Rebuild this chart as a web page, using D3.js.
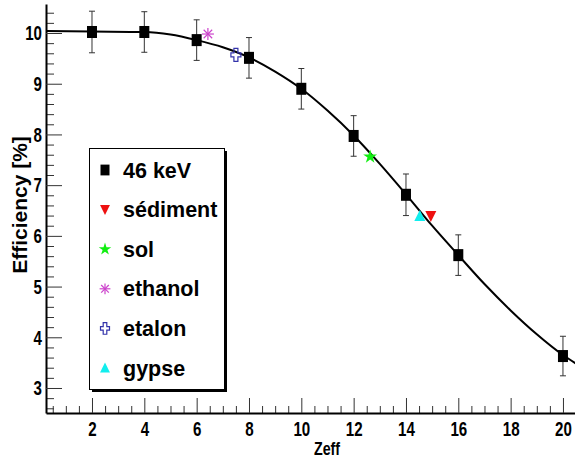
<!DOCTYPE html>
<html>
<head>
<meta charset="utf-8">
<script src="https://cdn.jsdelivr.net/npm/d3@7"></script>
<style>
  html, body { margin: 0; padding: 0; background: #fff; }
  svg { display: block; }
</style>
</head>
<body>
<svg id="chart" width="575" height="461"></svg>
<script>
// ---- data ----
const zeff = [2, 4, 6, 8, 10, 12, 14, 16, 20];
const eff = [10.02, 10.02, 9.86, 9.51, 8.90, 7.97, 6.81, 5.62, 3.63];
const effErr = [0.41, 0.40, 0.40, 0.40, 0.40, 0.40, 0.41, 0.40, 0.39];

const sampleNames = ["sédiment", "sol", "ethanol", "etalon", "gypse"];
const sampleZeff = [14.95, 12.63, 6.43, 7.50, 14.53];
const sampleEff = [6.39, 7.56, 9.98, 9.57, 6.39];
const sampleColors = ["#ee1111", "#11ee11", "#cc44cc", "#3333aa", "#11eeee"];
const sampleShapes = ["triDown", "star", "asterisk", "openCross", "triUp"];

const fitZeff = [0.25, 2, 4, 5, 6, 7, 8, 9, 10, 11, 12, 13, 14, 15, 16, 17, 18, 19, 20, 20.5];
const fitEff = [10.04, 10.03, 10.02, 9.97, 9.86, 9.72, 9.52, 9.24, 8.90, 8.47, 7.98, 7.42, 6.82, 6.20, 5.62, 5.05, 4.53, 4.06, 3.65, 3.48];

const xTicks = [2, 4, 6, 8, 10, 12, 14, 16, 18, 20];
const yTicks = [3, 4, 5, 6, 7, 8, 9, 10];
const legendLabels = ["46 keV", ...sampleNames];

// ---- layout ----
const svg = d3.select("#chart");
const x = d3.scaleLinear().domain([0.242, 20.46]).range([46, 575]);
const y = d3.scaleLinear().domain([2.507, 10.572]).range([413, 4]);

const mainFont = "'Liberation Sans', Arial, sans-serif";
const squeeze = 0.72;

// minor ticks
const xMinor = d3.range(0.5, 20.5, 0.5).filter(v => !xTicks.includes(v));
const yMinor = d3.range(2.6, 10.5, 0.2).map(v => +v.toFixed(1)).filter(v => !yTicks.includes(v));

svg.append("g").attr("transform", "translate(0,413)")
  .call(d3.axisBottom(x).tickValues(xMinor).tickSizeInner(-7).tickSizeOuter(0).tickFormat(""))
  .call(g => g.select(".domain").remove())
  .call(g => g.selectAll("line").attr("stroke", "#333"));
svg.append("g").attr("transform", "translate(46,0)")
  .call(d3.axisLeft(y).tickValues(yMinor).tickSizeInner(-8).tickSizeOuter(0).tickFormat(""))
  .call(g => g.select(".domain").remove())
  .call(g => g.selectAll("line").attr("stroke", "#333"));

// major axes
const xAxis = svg.append("g").attr("transform", "translate(0,413)")
  .call(d3.axisBottom(x).tickValues(xTicks).tickSizeInner(-15).tickSizeOuter(0).tickPadding(8).tickFormat(d3.format("d")));
xAxis.select(".domain").attr("stroke", "#000").attr("stroke-width", 2);
xAxis.selectAll("line").attr("stroke", "#333");
xAxis.selectAll("text").attr("font-family", mainFont).attr("font-weight", "bold").attr("font-size", 21)
  .attr("fill", "#000").attr("transform", `scale(${squeeze},1)`);

const yAxis = svg.append("g").attr("transform", "translate(46,0)")
  .call(d3.axisLeft(y).tickValues(yTicks).tickSizeInner(-16).tickSizeOuter(0).tickPadding(4).tickFormat(d3.format("d")));
yAxis.select(".domain").attr("stroke", "#000").attr("stroke-width", 2);
yAxis.selectAll("line").attr("stroke", "#333");
yAxis.selectAll("text").attr("font-family", mainFont).attr("font-weight", "bold").attr("font-size", 21)
  .attr("fill", "#000").attr("x", -4 / squeeze).attr("transform", `scale(${squeeze},1)`);

// axis titles
svg.append("text").attr("transform", `translate(327,455) scale(0.75,1)`).attr("text-anchor", "middle")
  .attr("font-family", mainFont).attr("font-weight", "bold").attr("font-size", 19).text("Zeff");
svg.append("text").attr("transform", "translate(27,205) rotate(-90)").attr("text-anchor", "middle")
  .attr("font-family", mainFont).attr("font-weight", "bold").attr("font-size", 21).text("Efficiency [%]");

// fit curve
const line = d3.line().x((d, i) => x(fitZeff[i])).y(d => y(d)).curve(d3.curveMonotoneX);
svg.append("path").datum(fitEff).attr("d", line).attr("fill", "none").attr("stroke", "#000").attr("stroke-width", 2);

// error bars
const eg = svg.append("g").attr("stroke", "#333").attr("stroke-width", 1);
zeff.forEach((z, i) => {
  const cx = x(z), y1 = y(eff[i] + effErr[i]), y2 = y(eff[i] - effErr[i]);
  eg.append("line").attr("x1", cx).attr("x2", cx).attr("y1", y1).attr("y2", y2);
  eg.append("line").attr("x1", cx - 3).attr("x2", cx + 3).attr("y1", y1).attr("y2", y1);
  eg.append("line").attr("x1", cx - 3).attr("x2", cx + 3).attr("y1", y2).attr("y2", y2);
});

// markers
function drawMarker(g, shape, cx, cy, color, s) {
  s = s || 1;
  if (shape === "square") {
    g.append("rect").attr("x", cx - 5 * s).attr("y", cy - 6 * s).attr("width", 10 * s).attr("height", 12 * s).attr("fill", "#000");
  } else if (shape === "triDown") {
    g.append("path").attr("d", `M${cx - 5.5 * s},${cy - 5 * s}L${cx + 5.5 * s},${cy - 5 * s}L${cx},${cy + 6 * s}Z`).attr("fill", color);
  } else if (shape === "triUp") {
    g.append("path").attr("d", `M${cx - 5.5 * s},${cy + 5 * s}L${cx + 5.5 * s},${cy + 5 * s}L${cx},${cy - 6 * s}Z`).attr("fill", color);
  } else if (shape === "star") {
    g.append("path").attr("d", d3.symbol(d3.symbolStar, 60 * s * s)()).attr("transform", `translate(${cx},${cy})`).attr("fill", color);
  } else if (shape === "asterisk") {
    const r = 6 * s, gg = g.append("g").attr("stroke", color).attr("stroke-width", 1.2);
    [0, 45, 90, 135].forEach(a => {
      const dx = r * Math.cos(a * Math.PI / 180), dy = r * Math.sin(a * Math.PI / 180);
      gg.append("line").attr("x1", cx - dx).attr("x2", cx + dx).attr("y1", cy - dy).attr("y2", cy + dy);
    });
  } else if (shape === "openCross") {
    const a = 2 * s, w = 5 * s, h = 6.5 * s;
    g.append("path").attr("d",
      `M${cx - a},${cy - h}H${cx + a}V${cy - a}H${cx + w}V${cy + a}H${cx + a}V${cy + h}H${cx - a}V${cy + a}H${cx - w}V${cy - a}H${cx - a}Z`)
      .attr("fill", "none").attr("stroke", color).attr("stroke-width", 1.2);
  }
}

const mg = svg.append("g");
zeff.forEach((z, i) => drawMarker(mg, "square", x(z), y(eff[i]), "#000"));
sampleZeff.forEach((z, i) => drawMarker(mg, sampleShapes[i], x(z), y(sampleEff[i]), sampleColors[i]));

// legend
const lg = svg.append("g");
lg.append("rect").attr("x", 92).attr("y", 151).attr("width", 135).attr("height", 241).attr("fill", "#000");
lg.append("rect").attr("x", 89.5).attr("y", 148.5).attr("width", 135).attr("height", 241).attr("fill", "#fff").attr("stroke", "#000").attr("stroke-width", 1);
const legShapes = ["square", ...sampleShapes];
const legColors = ["#000", ...sampleColors];
legendLabels.forEach((lab, i) => {
  const cy = 170 + i * 39.6;
  drawMarker(lg, legShapes[i], 105, cy, legColors[i], 0.9);
  lg.append("text").attr("x", 123).attr("y", cy + 7.5)
    .attr("font-family", mainFont).attr("font-weight", "bold").attr("font-size", 21.5).text(lab);
});
</script>
</body>
</html>
